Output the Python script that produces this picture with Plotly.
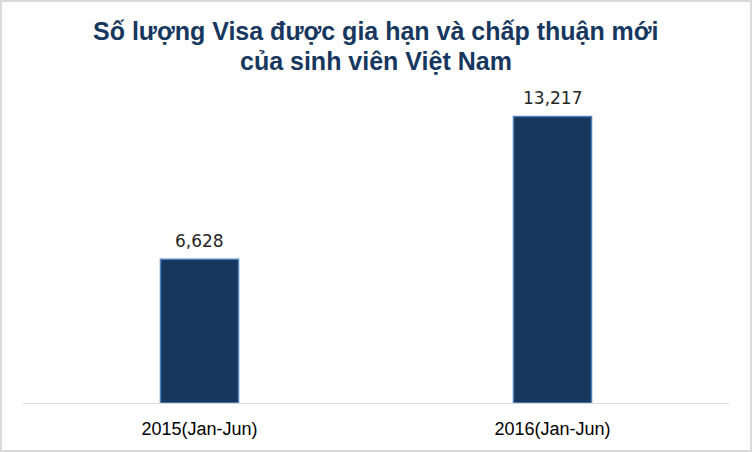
import plotly.graph_objects as go

categories = ["2015(Jan-Jun)", "2016(Jan-Jun)"]
values = [6628, 13217]
title_lines = ["Số lượng Visa được gia hạn và chấp thuận mới", "của sinh viên Việt Nam"]

W, H = 752, 452
ML, MR, MT, MB = 23, 23, 80, 49

fig = go.Figure()
fig.add_trace(go.Bar(
    x=categories, y=values,
    width=0.221,
    marker=dict(color="#17375E", line=dict(color="#4F81BD", width=1.5)),
    hoverinfo="skip",
))

for c, v in zip(categories, values):
    fig.add_annotation(
        x=c, y=v, text=f"{v:,}", showarrow=False,
        yanchor="bottom", yshift=6,
        font=dict(family="DejaVu Sans", size=17, color="#262626"),
    )

pw = W - ML - MR
ph = H - MT - MB

for i, line in enumerate(title_lines):
    top_px = 15 + 30 * i
    fig.add_annotation(
        xref="paper", yref="paper", x=0.5, y=1 + (MT - top_px) / ph,
        xanchor="center", yanchor="top", showarrow=False,
        text="<b>" + line + "</b>",
        font=dict(family="Liberation Sans, Arial, sans-serif", size=25, color="#17375E"),
    )

fig.add_shape(
    type="rect", xref="paper", yref="paper",
    x0=(1 - ML) / pw, x1=1 + (MR - 1) / pw,
    y0=-(MB - 1) / ph, y1=1 + (MT - 1) / ph,
    line=dict(color="#d9d9d9", width=2), layer="above",
)

fig.update_layout(
    width=W, height=H,
    margin=dict(l=ML, r=MR, t=MT, b=MB, autoexpand=False),
    paper_bgcolor="white", plot_bgcolor="white",
    showlegend=False,
    xaxis=dict(
        showline=True, linecolor="#d9d9d9", linewidth=1,
        ticks="", showgrid=False, ticklabelstandoff=9, automargin=False,
        tickfont=dict(family="Liberation Sans, Arial, sans-serif", size=18, color="#000000"),
    ),
    yaxis=dict(range=[0, 14900], visible=False, showgrid=False, zeroline=False, automargin=False),
)

fig.write_html(
    "out.html",
    config={"displayModeBar": False},
    post_script="document.body.style.margin='0';document.body.style.overflow='hidden';",
)
